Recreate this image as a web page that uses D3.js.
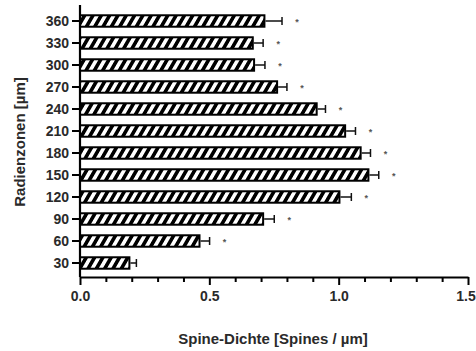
<!DOCTYPE html>
<html>
<head>
<meta charset="utf-8">
<script src="https://cdn.jsdelivr.net/npm/d3@7"></script>
<style>
  html, body { margin: 0; padding: 0; background: #fff; }
  svg { display: block; }
  text { font-family: "Liberation Sans", Arial, sans-serif; font-weight: bold; fill: #2a2a2a; }
</style>
</head>
<body>
<svg id="chart" width="476" height="351"></svg>
<script>
// Radial zones (µm from soma), top to bottom
const zones = [360, 330, 300, 270, 240, 210, 180, 150, 120, 90, 60, 30];
// Mean spine density [spines / µm]
const density = [0.713, 0.668, 0.673, 0.762, 0.915, 1.025, 1.085, 1.115, 1.003, 0.708, 0.462, 0.191];
// Standard error of the mean
const sem = [0.068, 0.040, 0.042, 0.038, 0.034, 0.040, 0.038, 0.040, 0.046, 0.043, 0.039, 0.027];
// Significance marks
const sig = ["*", "*", "*", "*", "*", "*", "*", "*", "*", "*", "*", ""];
// X axis ticks
const xTicks = [0, 0.5, 1.0, 1.5];
const xMinorTicks = [0.1, 0.2, 0.3, 0.4, 0.6, 0.7, 0.8, 0.9, 1.1, 1.2, 1.3, 1.4];

const rows = zones.map((z, i) => ({ zone: z, value: density[i], err: sem[i], mark: sig[i] }));

const svg = d3.select("#chart");
const plotLeft = 80, plotRight = 468, plotTop = 10, plotBottom = 274, axisY = 277;

const x = d3.scaleLinear().domain([0, 1.5]).range([plotLeft, plotRight]);
const y = d3.scaleBand().domain(zones).range([plotTop, plotBottom])
  .paddingInner(0.48).paddingOuter(0.24);

// Diagonal hatch fill
const defs = svg.append("defs");
const pat = defs.append("pattern")
  .attr("id", "hatch")
  .attr("patternUnits", "userSpaceOnUse")
  .attr("width", 7.2).attr("height", 7.2)
  .attr("patternTransform", "rotate(30)");
pat.append("rect").attr("width", 7.2).attr("height", 7.2).attr("fill", "#fff");
pat.append("rect").attr("width", 3.6).attr("height", 7.2).attr("fill", "#000");

// Bars
svg.append("g").selectAll("rect")
  .data(rows).join("rect")
  .attr("x", x(0))
  .attr("y", d => y(d.zone))
  .attr("width", d => x(d.value) - x(0))
  .attr("height", y.bandwidth())
  .attr("fill", "url(#hatch)")
  .attr("stroke", "#000")
  .attr("stroke-width", 2);

// Error bars (positive direction)
const eb = svg.append("g").attr("stroke", "#111").attr("stroke-width", 1.5);
eb.selectAll("line.stem").data(rows).join("line")
  .attr("class", "stem")
  .attr("x1", d => x(d.value) + 1).attr("x2", d => x(d.value + d.err))
  .attr("y1", d => y(d.zone) + y.bandwidth() / 2)
  .attr("y2", d => y(d.zone) + y.bandwidth() / 2);
eb.selectAll("line.cap").data(rows).join("line")
  .attr("class", "cap")
  .attr("x1", d => x(d.value + d.err)).attr("x2", d => x(d.value + d.err))
  .attr("y1", d => y(d.zone) + y.bandwidth() / 2 - 4)
  .attr("y2", d => y(d.zone) + y.bandwidth() / 2 + 4);

// Significance asterisks
svg.append("g").selectAll("text")
  .data(rows.filter(d => d.mark)).join("text")
  .attr("x", d => x(d.value + d.err) + 15)
  .attr("y", d => y(d.zone) + y.bandwidth() / 2 + 4)
  .attr("text-anchor", "middle")
  .style("font-size", "9px")
  .style("font-weight", "bold")
  .style("fill", "#555")
  .text(d => d.mark);

// Y axis
const yAxis = svg.append("g")
  .attr("transform", `translate(${plotLeft},0)`)
  .call(d3.axisLeft(y).tickSize(8).tickPadding(3).tickSizeOuter(0));
yAxis.select(".domain").remove();
yAxis.append("line")
  .attr("x1", 0).attr("x2", 0).attr("y1", 5).attr("y2", axisY)
  .attr("stroke", "#000").attr("stroke-width", 2.2);
yAxis.selectAll(".tick line").attr("stroke", "#000").attr("stroke-width", 2);
yAxis.selectAll(".tick text").style("font-size", "14px").attr("dy", "0.35em");

// X axis: major ticks
const xAxis = svg.append("g")
  .attr("transform", `translate(0,${axisY})`)
  .call(d3.axisBottom(x).tickValues(xTicks).tickFormat(d3.format(".1f"))
    .tickSize(8).tickPadding(6).tickSizeOuter(0));
xAxis.select(".domain").attr("stroke", "#000").attr("stroke-width", 2.2);
xAxis.selectAll(".tick line").attr("stroke", "#000").attr("stroke-width", 2);
xAxis.selectAll(".tick text").style("font-size", "14px");
// keep the last label inside the canvas
xAxis.selectAll(".tick text").filter(d => d === 1.5).attr("dx", "-2.5");

// X axis: minor ticks
const xMinor = svg.append("g")
  .attr("transform", `translate(0,${axisY})`)
  .call(d3.axisBottom(x).tickValues(xMinorTicks).tickFormat("").tickSize(5).tickSizeOuter(0));
xMinor.select(".domain").remove();
xMinor.selectAll(".tick line").attr("stroke", "#000").attr("stroke-width", 2);

// Axis titles
svg.append("text")
  .attr("x", (plotLeft + plotRight) / 2 - 1).attr("y", 344)
  .attr("text-anchor", "middle")
  .style("font-size", "15px")
  .text("Spine-Dichte [Spines / µm]");

svg.append("text")
  .attr("transform", `translate(25,${(plotTop + plotBottom) / 2}) rotate(-90)`)
  .attr("text-anchor", "middle")
  .style("font-size", "15px")
  .text("Radienzonen [µm]");
</script>
</body>
</html>
